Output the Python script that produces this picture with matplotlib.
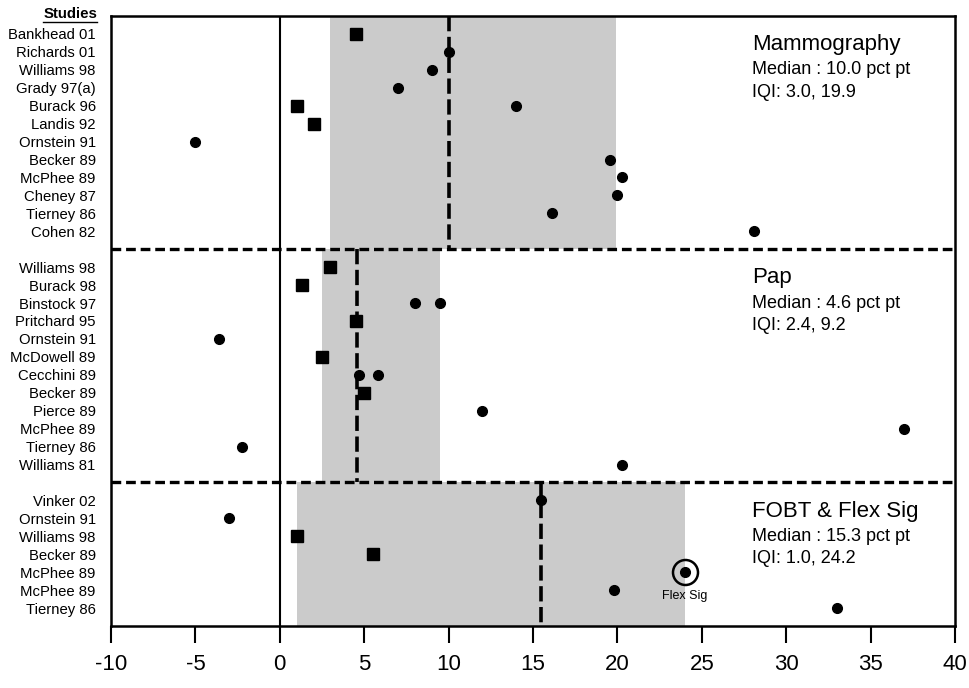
import matplotlib.pyplot as plt
from matplotlib.patches import Rectangle

plt.rcParams['font.family'] = ['Liberation Sans', 'DejaVu Sans']
plt.rcParams['lines.scale_dashes'] = False
plt.rcParams['axes.unicode_minus'] = False

# Mammography
mam_studies = ["Bankhead 01", "Richards 01", "Williams 98", "Grady 97(a)", "Burack 96",
               "Landis 92", "Ornstein 91", "Becker 89", "McPhee 89", "Cheney 87",
               "Tierney 86", "Cohen 82"]
mam_row = [0, 1, 2, 3, 4, 4, 5, 6, 7, 8, 9, 10, 11]
mam_val = [4.5, 10.0, 9.0, 7.0, 1.0, 14.0, 2.0, -5.0, 19.55, 20.25, 20.0, 16.1, 28.1]
mam_mark = ["s", "o", "o", "o", "s", "o", "s", "o", "o", "o", "o", "o", "o"]

# Pap
pap_studies = ["Williams 98", "Burack 98", "Binstock 97", "Pritchard 95", "Ornstein 91",
               "McDowell 89", "Cecchini 89", "Becker 89", "Pierce 89", "McPhee 89",
               "Tierney 86", "Williams 81"]
pap_row = [0, 1, 2, 2, 3, 4, 5, 6, 6, 7, 8, 9, 10, 11]
pap_val = [3.0, 1.3, 8.0, 9.5, 4.5, -3.6, 2.5, 4.7, 5.8, 5.0, 12.0, 37.0, -2.25, 20.25]
pap_mark = ["s", "s", "o", "o", "s", "o", "s", "o", "o", "s", "o", "o", "o", "o"]

# FOBT & Flex Sig
fobt_studies = ["Vinker 02", "Ornstein 91", "Williams 98", "Becker 89", "McPhee 89",
                "McPhee 89", "Tierney 86"]
fobt_row = [0, 1, 2, 3, 4, 5, 6]
fobt_val = [15.45, -3.0, 1.0, 5.5, 24.0, 19.8, 33.0]
fobt_mark = ["o", "o", "s", "s", "o", "o", "o"]
flex_row = 4

group_titles = ["Mammography", "Pap", "FOBT & Flex Sig"]
group_median_text = ["Median : 10.0 pct pt", "Median : 4.6 pct pt", "Median : 15.3 pct pt"]
group_iqi_text = ["IQI: 3.0, 19.9", "IQI: 2.4, 9.2", "IQI: 1.0, 24.2"]
group_median = [10.0, 4.6, 15.5]
group_shade = [(3.0, 19.9), (2.5, 9.5), (1.0, 24.0)]

groups = [(mam_studies, mam_row, mam_val, mam_mark),
          (pap_studies, pap_row, pap_val, pap_mark),
          (fobt_studies, fobt_row, fobt_val, fobt_mark)]

fig = plt.figure(figsize=(9.69, 6.88), dpi=100)
ax = fig.add_axes([111 / 969, 1 - 626 / 688, 844 / 969, 610 / 688])

ytick_pos = []
ytick_lab = []
start = 1
bounds = []
for studies, rows, vals, marks in groups:
    top = start - 1
    bottom = start + len(studies)
    bounds.append((top, bottom))
    for i, s in enumerate(studies):
        ytick_pos.append(start + i)
        ytick_lab.append(s)
    start = bottom + 1

for gi, (studies, rows, vals, marks) in enumerate(groups):
    top, bottom = bounds[gi]
    first = top + 1
    lo, hi = group_shade[gi]
    ax.add_patch(Rectangle((lo, top), hi - lo, bottom - top, facecolor="#cbcbcb",
                           edgecolor="none", zorder=0))
    ax.plot([group_median[gi]] * 2, [top, bottom], color="black", lw=2.6,
            linestyle=(0, (11, 4)), zorder=2)
    for r, v, m in zip(rows, vals, marks):
        if m == "s":
            ax.plot(v, first + r, marker="s", ms=8.5, color="black", ls="none", zorder=4)
        else:
            ax.plot(v, first + r, marker="o", ms=7, color="black", ls="none", zorder=4)
    ax.text(28.0, top + 1.6, group_titles[gi], fontsize=16, va="center", ha="left")
    ax.text(28.0, top + 3.0, group_median_text[gi], fontsize=13, va="center", ha="left")
    ax.text(28.0, top + 4.25, group_iqi_text[gi], fontsize=13, va="center", ha="left")
    if gi < 2:
        ax.axhline(bottom, color="black", lw=2.4, linestyle=(0, (7, 3.5)), zorder=3)

# Flex Sig highlight
fx = fobt_val[flex_row]
fy = bounds[2][0] + 1 + flex_row
ax.plot(fx, fy, marker="o", ms=18, mfc="none", mec="black", mew=1.8, ls="none", zorder=4)
ax.text(fx, fy + 1.3, "Flex Sig", fontsize=9, ha="center", va="center")

ax.axvline(0, color="black", lw=1.5, zorder=3)

ax.set_xlim(-10, 40)
ax.set_ylim(34, 0)
ax.set_xticks(range(-10, 41, 5))
ax.tick_params(axis="x", direction="out", length=12, width=1.5, labelsize=16, pad=8)
ax.set_yticks(ytick_pos)
ax.set_yticklabels(ytick_lab, fontsize=10.7)
ax.tick_params(axis="y", length=0, pad=11)
for sp in ax.spines.values():
    sp.set_linewidth(1.8)

fig.text(97 / 969, 1 - 14 / 688, "Studies", fontsize=10.8, fontweight="bold",
         ha="right", va="center")
fig.add_artist(plt.Line2D([43 / 969, 97 / 969], [1 - 22 / 688, 1 - 22 / 688],
                          color="black", lw=1))

fig.savefig("out.png", dpi=100)
